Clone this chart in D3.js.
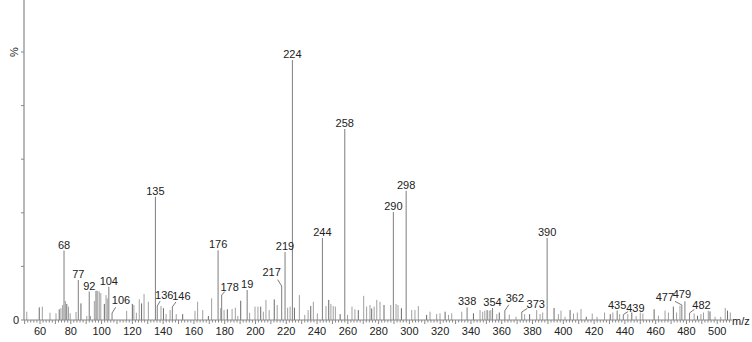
<!DOCTYPE html>
<html>
<head>
<meta charset="utf-8">
<script src="https://cdn.jsdelivr.net/npm/d3@7"></script>
<style>
  body { margin: 0; background: #fff; }
  text { font-family: "Liberation Sans", Arial, sans-serif; fill: #222; }
</style>
</head>
<body>
<svg id="spectrum"></svg>
<script>
// labelled peaks: axis position (m/z), relative intensity (%), label text
var peakMz    = [75.6, 84.9, 92.0, 104.7, 106.8, 135.0, 136.2, 146.0, 175.7, 178.0, 194.6, 217.0, 219.2, 224.0, 243.5, 258.0, 289.6, 297.9, 337.5, 354.0, 362.0, 373.0, 389.5, 435.0, 439.0, 477.0, 479.0, 482.0];
var peakInt   = [25.9, 14.9, 10.6, 12.4, 2.6, 46.0, 5.2, 4.9, 26.0, 9.3, 11.2, 12.7, 25.4, 97.0, 30.6, 71.3, 40.3, 48.2, 4.7, 4.5, 3.5, 3.0, 30.6, 3.5, 2.0, 5.6, 7.0, 2.6];
var peakLabel = ["68", "77", "92", "104", "106", "135", "136", "146", "176", "178", "19", "217", "219", "224", "244", "258", "290", "298", "338", "354", "362", "373", "390", "435", "439", "477", "479", "482"];

// smaller unlabelled peaks
var minorMz  = [51.4, 59.5, 61.5, 66.5, 70.4, 72.5, 73.6, 74.7, 76.5, 77.4, 78.5, 79.6, 83.4, 86.6, 90.4, 92.8, 95.3, 96.4, 97.5, 98.5, 99.5, 101.8, 102.9, 103.7, 116.3, 120.0, 121.0, 122.6, 124.5, 126.0, 127.6, 130.4, 138.6, 140.2, 141.9, 144.5, 148.5, 152.7, 160.7, 162.4, 165.7, 169.4, 171.5, 177.4, 179.6, 181.7, 184.8, 186.9, 188.5, 190.4,
                196.2, 199.7, 201.6, 203.4, 205.1, 206.8, 208.9, 212.2, 214.1, 220.9, 222.5, 225.3, 228.5, 232.0, 234.2, 235.9, 237.6, 240.2, 245.8, 247.6, 249.0, 250.5, 251.9, 255.0, 259.8, 262.7, 264.6, 266.8, 270.3, 272.2, 274.4, 275.5, 277.1, 278.8, 280.9, 283.5, 287.9, 291.3, 292.6, 294.8, 301.5, 303.6, 305.8, 311.2, 313.4, 317.7, 319.9, 323.2, 325.4, 327.5, 334.0, 341.6, 345.9, 347.6,
                349.0, 350.5, 351.9, 352.9, 356.8, 358.4, 364.9, 369.3, 374.9, 378.1, 382.7, 384.9, 386.6, 394.0, 396.8, 398.5, 401.1, 404.4, 406.6, 409.1, 411.5, 414.9, 418.8, 421.9, 426.8, 430.5, 432.2, 436.6, 441.9, 444.5, 447.3, 450.0, 451.7, 459.0, 461.8, 466.1, 468.3, 471.5, 473.6, 475.8, 485.0, 487.2, 489.4, 491.1, 494.2, 495.3, 498.6, 502.3, 505.2, 506.7, 508.5];
var minorInt = [3.1, 4.7, 5.0, 2.7, 2.5, 4.0, 4.4, 5.6, 7.1, 6.0, 5.0, 2.5, 3.0, 6.2, 1.5, 1.5, 7.1, 10.9, 10.9, 10.6, 10.0, 6.0, 9.3, 8.0, 3.4, 6.0, 5.6, 2.7, 7.7, 6.2, 9.7, 6.8, 5.2, 4.4, 2.2, 3.7, 2.2, 2.2, 3.4, 6.8, 3.7, 1.5, 8.1, 4.4, 3.7, 4.0, 4.1, 4.6, 1.5, 7.2,
                2.7, 5.0, 5.0, 5.0, 3.1, 7.5, 3.7, 7.7, 5.6, 4.6, 5.0, 4.6, 9.3, 1.9, 3.7, 5.2, 6.8, 2.5, 5.2, 7.5, 6.0, 5.2, 5.0, 2.2, 1.9, 5.0, 4.0, 3.7, 9.0, 5.0, 5.6, 4.3, 5.0, 7.5, 6.8, 5.6, 5.6, 6.0, 5.6, 4.4, 3.7, 3.7, 5.2, 1.9, 3.1, 2.2, 2.5, 3.1, 1.9, 2.5, 3.1, 2.5, 3.7, 3.1,
                3.5, 3.7, 3.5, 3.7, 2.2, 2.8, 2.0, 1.2, 2.2, 2.2, 3.7, 2.2, 2.8, 4.5, 2.2, 3.5, 1.2, 3.7, 2.4, 2.8, 4.1, 1.2, 2.4, 1.2, 2.8, 2.2, 2.8, 2.2, 2.2, 2.8, 1.5, 2.8, 2.4, 4.0, 1.6, 3.5, 2.8, 5.0, 2.8, 5.3, 2.4, 1.6, 2.2, 2.8, 3.5, 3.2, 1.2, 1.2, 4.5, 3.5, 2.8];

var xTicks = [60, 80, 100, 120, 140, 160, 180, 200, 220, 240, 260, 280, 300, 320, 340, 360, 380, 400, 420, 440, 460, 480, 500];
var yTicks = [0, 20, 40, 60, 80, 100];

// label placement for crowded peaks (offset of label centre from peak top)
var labelShift = {
  "106": [9, -13], "136": [7, -11], "146": [9, -11], "178": [8, -8],
  "217": [-10, -14], "362": [10, -13], "373": [14, -8], "439": [12, -7],
  "477": [-17, -8], "479": [-3, -7], "482": [12, -8]
};

var width = 752, height = 342;
var svg = d3.select("#spectrum").attr("width", width).attr("height", height);

var x = d3.scaleLinear().domain([49.6, 509.6]).range([24, 732]);
var y = d3.scaleLinear().domain([0, 100]).range([320, 52]);

// minor peaks
svg.append("g").selectAll("line")
  .data(d3.zip(minorMz, minorInt))
  .enter().append("line")
  .attr("x1", function(d) { return x(d[0]); })
  .attr("x2", function(d) { return x(d[0]); })
  .attr("y1", y(0))
  .attr("y2", function(d) { return y(d[1]); })
  .attr("stroke", function(d, i) { return i % 4 == 1 ? "#6a6a6a" : "#a0a0a0"; })
  .attr("stroke-width", 1);

// labelled peaks
var peaks = d3.range(peakMz.length).map(function(i) {
  return { mz: peakMz[i], val: peakInt[i], label: peakLabel[i] };
});

svg.append("g").selectAll("line")
  .data(peaks)
  .enter().append("line")
  .attr("x1", function(d) { return x(d.mz); })
  .attr("x2", function(d) { return x(d.mz); })
  .attr("y1", y(0))
  .attr("y2", function(d) { return y(d.val); })
  .attr("stroke", "#8a8a8a")
  .attr("stroke-width", 1.1);

// axes
var xAxis = svg.append("g");
xAxis.append("line")
  .attr("x1", 24).attr("x2", 732).attr("y1", y(0)).attr("y2", y(0))
  .attr("stroke", "#888");
xAxis.selectAll(".minor")
  .data(d3.range(50, 510, 2))
  .enter().append("line")
  .attr("x1", function(d) { return x(d); })
  .attr("x2", function(d) { return x(d); })
  .attr("y1", y(0))
  .attr("y2", function(d) { return d % 10 == 0 ? y(0) + 4 : y(0) + 2.5; })
  .attr("stroke", "#888");
xAxis.selectAll("text")
  .data(xTicks)
  .enter().append("text")
  .attr("x", function(d) { return x(d); })
  .attr("y", 335)
  .attr("text-anchor", "middle")
  .attr("font-size", 11)
  .text(function(d) { return d; });
xAxis.append("text")
  .attr("x", 732).attr("y", 325)
  .attr("font-size", 11)
  .text("m/z");

var yAxis = svg.append("g");
yAxis.append("line")
  .attr("x1", 24).attr("x2", 24).attr("y1", 0).attr("y2", y(0))
  .attr("stroke", "#888").attr("stroke-width", 1.2);
yAxis.selectAll("line.tick")
  .data(yTicks)
  .enter().append("line")
  .attr("class", "tick")
  .attr("x1", 21).attr("x2", 24)
  .attr("y1", function(d) { return y(d); })
  .attr("y2", function(d) { return y(d); })
  .attr("stroke", "#888");
yAxis.append("text")
  .attr("x", 19).attr("y", y(0) + 4)
  .attr("text-anchor", "end")
  .attr("font-size", 11)
  .text("0");
yAxis.append("text")
  .attr("transform", "translate(18," + y(100) + ") rotate(-90)")
  .attr("text-anchor", "middle")
  .attr("font-size", 11)
  .text("%");

// peak labels with leader lines where they are moved aside
var lab = svg.append("g");
peaks.forEach(function(d) {
  var px = x(d.mz), py = y(d.val);
  var s = labelShift[d.label];
  if (s) {
    var cx = px + s[0], cy = py + s[1];
    if (Math.abs(s[0]) > 5) {
      lab.append("line")
        .attr("x1", px).attr("y1", py)
        .attr("x2", px + s[0] * 0.4).attr("y2", py + s[1] * 0.45)
        .attr("stroke", "#555").attr("stroke-width", 0.8);
    }
    lab.append("text")
      .attr("x", cx).attr("y", cy + 4)
      .attr("text-anchor", "middle")
      .attr("font-size", 11)
      .text(d.label);
  } else {
    lab.append("text")
      .attr("x", px).attr("y", py - 2)
      .attr("text-anchor", "middle")
      .attr("font-size", 11)
      .text(d.label);
  }
});
</script>
</body>
</html>
